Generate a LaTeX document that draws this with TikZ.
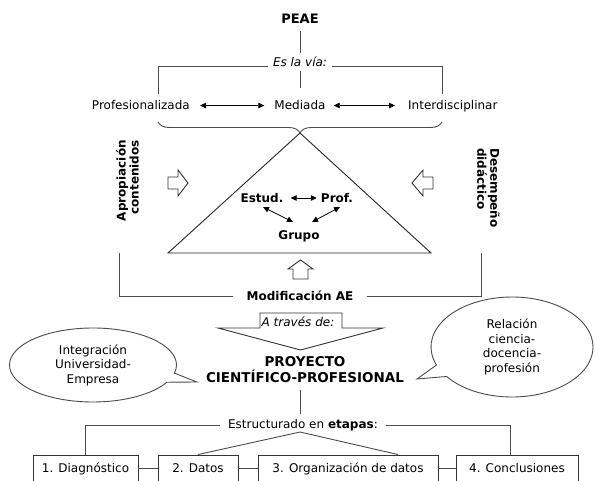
\documentclass[tikz,border=0pt]{standalone}
\usepackage{fontspec}
\setmainfont{DejaVu Sans}
\usetikzlibrary{arrows.meta,decorations.pathreplacing,shapes.callouts}
\begin{document}
\begin{tikzpicture}[x=1pt,y=-1pt,
  every node/.style={font=\fontsize{12}{14.5}\selectfont, inner sep=0pt},
  ln/.style={draw=black!70, line width=0.9pt},
  dbl/.style={draw=black, line width=0.8pt, {Triangle[length=6pt,width=5.5pt]}-{Triangle[length=6pt,width=5.5pt]}},
  lbl/.style={font=\fontsize{12}{14.5}\selectfont\bfseries},
  vlbl/.style={font=\fontsize{12}{13}\selectfont\bfseries},
  itl/.style={font=\fontsize{12}{14.5}\selectfont\itshape},
  stage/.style={draw=black!80, line width=0.9pt, minimum height=27pt, inner sep=0pt},
  bubble/.style={ellipse callout, draw=black!70, line width=0.9pt, align=center, inner sep=0pt},
  blockarrow/.style={draw=black!80, line width=0.9pt, fill=white}
]
\useasboundingbox (0,0) rectangle (595,481);
\fill[white] (0,0) rectangle (595,481);
\clip (0,0) rectangle (595,481);

% top
\node[lbl, minimum height=24pt, font=\fontsize{13}{15}\selectfont\bfseries] (peae) at (300,19) {PEAE};
\node[itl, minimum height=18pt, inner xsep=5pt] (via) at (300,62) {Es la vía:};
\node[anchor=base east] (prof) at (190,110) {Profesionalizada};
\node[anchor=base] (med) at (300,110) {Mediada};
\node[anchor=base west] (inter) at (408,110) {Interdisciplinar};
\coordinate (bl) at (158,94);
\coordinate (br) at (442,94);

\draw[ln] (peae.south) -- (via.north);
\draw[ln, shorten >=13pt] (via.south) -- (med.north);
\draw[ln] (via.base west) -| (bl);
\draw[ln] (via.base east) -| (br);
\draw[dbl] ([xshift=10pt]prof.east) -- ([xshift=-10pt]med.west);
\draw[dbl] ([xshift=8pt]med.east) -- ([xshift=-13pt]inter.west |- med.east);
\draw[ln, decorate, decoration={brace, amplitude=11pt, mirror}] (158,122) -- (442,122);

% triangle
\coordinate (apex) at (300,133);
\coordinate (tl) at (168,253);
\coordinate (tr) at (431,253);
\draw[draw=black!85, line width=0.9pt] (apex) -- (tl) -- (tr) -- cycle;
\node[lbl] (estud) at (262,198) {Estud.};
\node[lbl] (profe) at (337,198) {Prof.};
\node[lbl] (grupo) at (299,236) {Grupo};
\draw[dbl] ([xshift=7pt]estud.east) -- ([xshift=-4pt]profe.west);
\draw[dbl] ([shift={(1,9)}]estud.center) -- ([shift={(-6,-14)}]grupo.center);
\draw[dbl] ([shift={(3,9)}]profe.center) -- ([shift={(13,-14)}]grupo.center);

% side labels
\node[vlbl, rotate=90, align=right, anchor=east] (apro) at (127.5,140) {Apropiación\\contenidos};
\node[vlbl, rotate=-90, align=left, anchor=west] (dese) at (488.5,148) {Desempeño\\didáctico};

% block arrows
\draw[blockarrow] (168,177) -- (178,177) -- (178,170) -- (188,183) -- (178,196) -- (178,189) -- (168,189) -- cycle;
\draw[blockarrow] (433,177) -- (423,177) -- (423,170) -- (412,183) -- (423,196) -- (423,189) -- (433,189) -- cycle;
\draw[blockarrow] (293,279) -- (293,269) -- (288,269) -- (300.5,260) -- (313,269) -- (308,269) -- (308,279) -- cycle;

% bottom bracket
\node[lbl, inner xsep=13pt] (mod) at (300,296) {Modificación AE};
\coordinate (ml) at (119,253);
\coordinate (mr) at (481,253);
\draw[ln] (mod.west) -| (ml);
\draw[ln] (mod.east) -| (mr);

% down arrow
\draw[blockarrow] (260,313) -- (342,313) -- (342,328) -- (383,328) -- (300.5,350) -- (218,328) -- (260,328) -- cycle;
\node[itl] (atraves) at (298,322) {A través de:};

% project
\node[font=\fontsize{13.5}{16}\selectfont\bfseries, align=center] (proj) at (305,370) {PROYECTO\\CIENTÍFICO-PROFESIONAL};

% callouts
\node[bubble, minimum width=167pt, minimum height=74pt, callout absolute pointer={(197,382)}] (c1) at (93,365) {Integración\\Universidad-\\Empresa};
\node[bubble, minimum width=162pt, minimum height=100pt, callout absolute pointer={(417,379)}] (c2) at (512,347) {Relación\\ciencia-\\docencia-\\profesión};

% stages
\node[inner xsep=8pt, minimum height=22pt] (estr) at (303,425) {Estructurado en \textbf{etapas}:};
\coordinate (ps) at (300,390);
\draw[ln] (ps) -- (ps |- estr.north);
\node[stage, minimum width=105pt] (s1) at (85.5,468.5) {1. Diagnóstico};
\node[stage, minimum width=80pt] (s2) at (198,468.5) {2. Datos};
\node[stage, minimum width=180pt] (s3) at (348,468.5) {3. Organización de datos};
\node[stage, minimum width=122pt] (s4) at (517,468.5) {4. Conclusiones};
\draw[ln] (s1) -- (s2);
\draw[ln] (s2) -- (s3);
\draw[ln] (s3) -- (s4);
\draw[ln] (estr.west) -| (s1.north);
\draw[ln] (estr.east) -| ([xshift=-7pt]s4.north);
\coordinate (vt) at (300,432);
\draw[ln] (s2.north) -- (vt) -- ([xshift=50pt]s3.north);
\end{tikzpicture}
\end{document}
